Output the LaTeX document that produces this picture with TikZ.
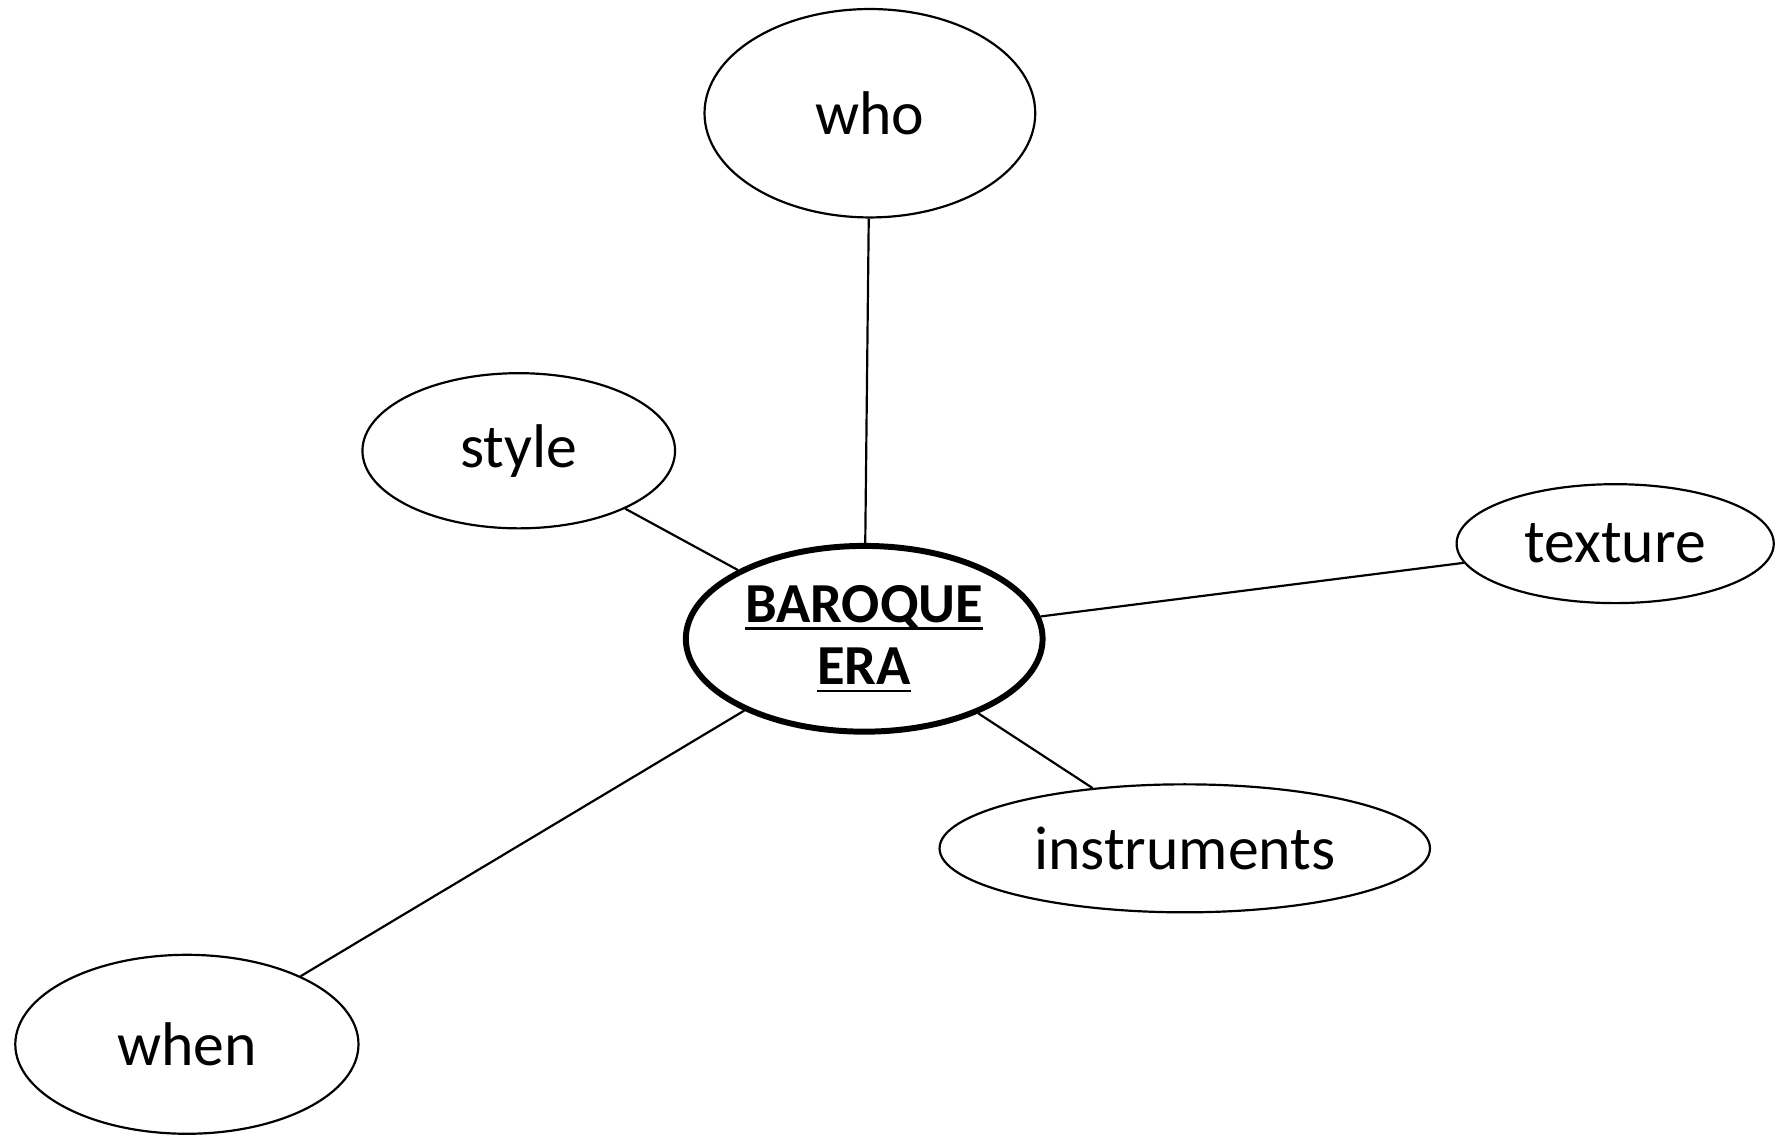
\documentclass[tikz,border=0pt]{standalone}
\usepackage{fontspec}
\setmainfont{Carlito}
\usetikzlibrary{shapes.geometric}

\newcommand{\erauline}[1]{\setbox0\hbox{#1}\rlap{\rule[-1.9pt]{\wd0}{0.65pt}}\box0}

\tikzset{
    topic/.style={draw, ellipse, line width=0.55pt, inner sep=0pt,
        font=\fontsize{15.5}{18}\selectfont},
    hub/.style={draw, ellipse, line width=1.5pt, inner sep=0pt, align=center,
        font=\fontsize{14.2}{15.6}\selectfont\bfseries},
    spoke/.style={line width=0.55pt}
}

\begin{document}
\begin{tikzpicture}
    \useasboundingbox (0,0) rectangle (15.68,10.03);

    % 中心
    \node[hub, minimum width=3.15cm, minimum height=1.64cm] (era) at (7.63,4.39)
        {\erauline{BAROQUE}\\[0pt]\erauline{ERA}};

    % 分支
    \node[topic, minimum width=2.92cm, minimum height=1.84cm] (who) at (7.68,9.03) {who};
    \node[topic, minimum width=2.76cm, minimum height=1.37cm] (style) at (4.58,6.05) {style};
    \node[topic, minimum width=2.80cm, minimum height=1.05cm] (texture) at (14.26,5.23) {texture};
    \node[topic, minimum width=4.33cm, minimum height=1.13cm] (instruments) at (10.46,2.54) {instruments};
    \node[topic, minimum width=3.03cm, minimum height=1.58cm] (when) at (1.65,0.81) {when};

    % 连线
    \foreach \n in {who, style, texture, instruments, when} {
        \draw[spoke] (era) -- (\n);
    }
\end{tikzpicture}
\end{document}
